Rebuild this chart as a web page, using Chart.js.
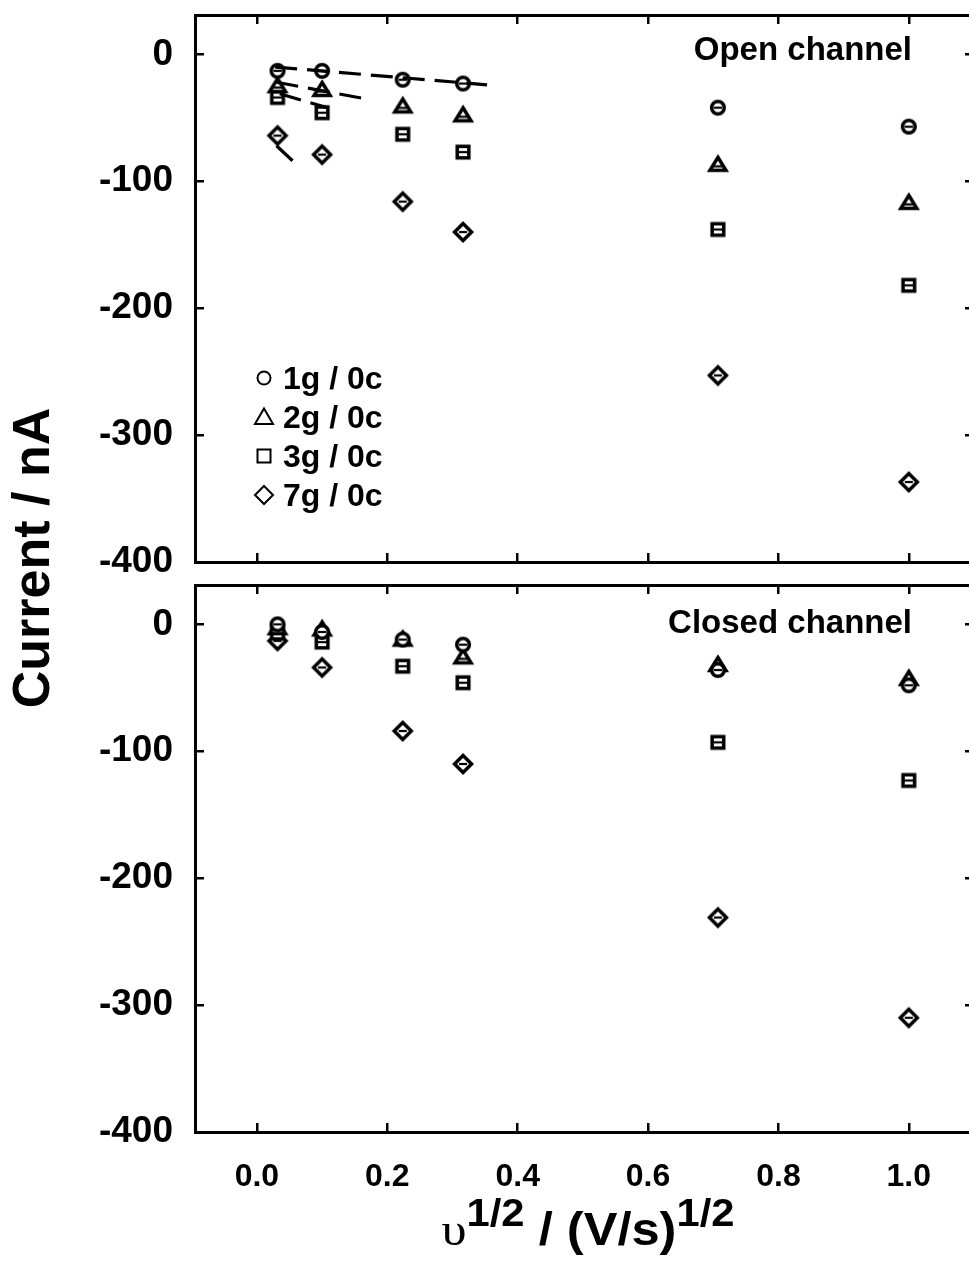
<!DOCTYPE html>
<html><head><meta charset="utf-8">
<script src="https://cdn.jsdelivr.net/npm/chart.js@4.4.0/dist/chart.umd.min.js"></script>
<style>
html,body{margin:0;padding:0;background:#fff;overflow:hidden;width:969px;height:1268px;}
#wrap{position:relative;width:969px;height:1268px;overflow:hidden;background:#fff;}
canvas{position:absolute;left:0;}
.t{position:absolute;font-family:"Liberation Sans",Arial,sans-serif;font-weight:bold;color:#000;white-space:nowrap;}
#legend .row{height:39px;display:flex;align-items:center;}
#legend svg{width:22px;height:22px;margin-right:8px;flex:none;}
#xt .sup{font-size:38px;position:relative;top:-19px;}
#xt .ups{font-family:"Liberation Serif","DejaVu Serif",serif;font-weight:normal;font-size:46px;}
</style></head><body>
<div id="wrap">
<canvas id="cTop" width="1000" height="600" style="top:0;width:1000px;height:600px"></canvas>
<canvas id="cBot" width="1000" height="708" style="top:560px;width:1000px;height:708px"></canvas>
<div class="t" style="right:57px;top:32px;font-size:33px;line-height:33px;">Open channel</div>
<div class="t" style="right:57px;top:605px;font-size:33px;line-height:33px;">Closed channel</div>
<div class="t" id="legend" style="left:253px;top:358px;font-size:32px;line-height:32px;"></div>
<div class="t" style="left:-169px;top:532px;width:400px;height:52px;line-height:52px;font-size:52px;text-align:center;transform:rotate(-90deg);transform-origin:50% 50%;">Current / nA</div>
<div class="t" id="xt" style="left:388px;top:1206px;width:400px;text-align:center;font-size:46px;line-height:46px;transform:scaleX(1.1);transform-origin:50% 50%;"><span class="ups">&#965;</span><span class="sup">1/2</span> / (V/s)<span class="sup">1/2</span></div>
</div>
<script>
// ---- data ----
const scanRateSqrt = [0.0316, 0.1, 0.2236, 0.3162, 0.7071, 1.0];
const open1g = [-13, -13, -20, -23, -42, -57];
const open2g = [-25, -28, -41, -48, -87, -117];
const open3g = [-34, -46, -63, -77, -138, -182];
const open7g = [-64, -79, -116, -140, -253, -337];
const closed1g = [0, -6, -12, -16, -36, -48];
const closed2g = [-3, -4, -12, -26, -32, -43];
const closed3g = [-7, -14, -33, -46, -93, -123];
const closed7g = [-13, -34, -84, -110, -231, -310];
// dashed linear fits (open channel), end points
const fit1gX = [0.028, 0.353], fit1gY = [-10, -24];
const fit2gX = [0.03, 0.166],  fit2gY = [-22, -35];
const fit3gX = [0.035, 0.107], fit3gY = [-31, -42];
const fit7gX = [0.03, 0.055],  fit7gY = [-72, -84];
const seriesLabels = ['1g / 0c', '2g / 0c', '3g / 0c', '7g / 0c'];
const xTickValues = [0, 0.2, 0.4, 0.6, 0.8, 1.0];
const xTickLabels = ['0.0', '0.2', '0.4', '0.6', '0.8', '1.0'];
const yTickValues = [-400, -300, -200, -100, 0];
const yTickLabels = ['-400', '-300', '-200', '-100', '0'];

const FONT = '"Liberation Sans", Arial, sans-serif';

function marker(shape) {
  const s = 26, m = s / 2, c = document.createElement('canvas');
  c.width = s; c.height = s;
  const g = c.getContext('2d');
  g.strokeStyle = '#000'; g.fillStyle = '#fff'; g.lineWidth = 3.5; g.lineJoin = 'miter';
  g.beginPath();
  if (shape === 'circle') g.arc(m, m, 6.3, 0, Math.PI * 2);
  else if (shape === 'triangle') { g.moveTo(m, m - 7.5); g.lineTo(m + 8, m + 5.5); g.lineTo(m - 8, m + 5.5); g.closePath(); }
  else if (shape === 'square') g.rect(m - 5.8, m - 5.8, 11.6, 11.6);
  else { g.moveTo(m, m - 8.5); g.lineTo(m + 8.5, m); g.lineTo(m, m + 8.5); g.lineTo(m - 8.5, m); g.closePath(); }
  g.fill(); g.stroke();
  g.lineWidth = 2.2; g.beginPath();
  const yy = shape === 'triangle' ? m + 1.5 : m;
  g.moveTo(m - 4, yy); g.lineTo(m + 4, yy); g.stroke();
  return c;
}
const shapes = ['circle', 'triangle', 'square', 'diamond'];
const markers = shapes.map(marker);

function pts(xs, ys) { return xs.map((x, i) => ({ x: x, y: ys[i] })); }
function scat(i, ys) {
  return { label: seriesLabels[i], data: pts(scanRateSqrt, ys), pointStyle: markers[i], pointRadius: 8,
           showLine: false, borderColor: '#000', backgroundColor: '#fff' };
}
function fit(xs, ys) {
  return { label: 'fit', data: pts(xs, ys), showLine: true, borderColor: '#000', borderWidth: 3.2,
           borderDash: [22, 10], pointRadius: 0, fill: false, tension: 0 };
}

function setTicks(vals) { return s => { s.ticks = vals.map(v => ({ value: v })); }; }
function noPad(s) { s.paddingTop = 0; s.paddingBottom = 0; s.paddingLeft = 0; s.paddingRight = 0; }
function scales(showX) {
  const grid = { drawOnChartArea: false, drawTicks: true, tickLength: -9, lineWidth: 2.5, color: '#000' };
  const border = { display: true, color: '#000', width: 3 };
  const xr = { type: 'linear', min: -0.095, max: 1.1, grid: grid, border: border, afterBuildTicks: setTicks(xTickValues) };
  const yr = { type: 'linear', min: -400, max: 31, grid: grid, border: border, afterBuildTicks: setTicks(yTickValues) };
  return {
    x: Object.assign({}, xr, { position: 'bottom',
      ticks: { display: showX, autoSkip: false, maxRotation: 0, padding: 35, color: '#000',
               font: { family: FONT, size: 32, weight: 'bold' },
               callback: v => { const i = xTickValues.findIndex(t => Math.abs(t - v) < 1e-6); return i < 0 ? '' : xTickLabels[i]; } },
      afterFit: s => { s.height = showX ? 136 : 0; noPad(s); } }),
    x2: Object.assign({}, xr, { position: 'top', ticks: { display: false }, afterFit: s => { s.height = 0; noPad(s); } }),
    y: Object.assign({}, yr, { position: 'left',
      ticks: { padding: 31, color: '#000', font: { family: FONT, size: 37, weight: 'bold' },
               callback: v => { const i = yTickValues.indexOf(v); return i < 0 ? '' : yTickLabels[i]; } },
      afterFit: s => { s.width = 195; noPad(s); } }),
    y2: Object.assign({}, yr, { position: 'right', ticks: { display: false }, afterFit: s => { s.width = 26; noPad(s); } })
  };
}
function makeChart(id, datasets, showX, pad) {
  return new Chart(document.getElementById(id), {
    type: 'scatter',
    data: { datasets: datasets },
    options: {
      responsive: false, animation: false, devicePixelRatio: 1,
      layout: { padding: pad },
      plugins: { legend: { display: false }, tooltip: { enabled: false } },
      scales: scales(showX)
    }
  });
}

makeChart('cTop', [
  fit(fit1gX, fit1gY), fit(fit2gX, fit2gY), fit(fit3gX, fit3gY), fit(fit7gX, fit7gY),
  scat(0, open1g), scat(1, open2g), scat(2, open3g), scat(3, open7g)
], false, { top: 15, bottom: 38, left: 0, right: 0 });

makeChart('cBot', [
  scat(0, closed1g), scat(1, closed2g), scat(2, closed3g), scat(3, closed7g)
], true, { top: 25, bottom: 0, left: 0, right: 0 });

// legend
const svgShapes = [
  '<circle cx="11" cy="11" r="6.5" fill="none" stroke="#000" stroke-width="2"/>',
  '<polygon points="11,2.5 20,18 2,18" fill="none" stroke="#000" stroke-width="2"/>',
  '<rect x="4.5" y="4.5" width="13" height="13" fill="none" stroke="#000" stroke-width="2"/>',
  '<polygon points="11,2 20,11 11,20 2,11" fill="none" stroke="#000" stroke-width="2"/>'
];
document.getElementById('legend').innerHTML = seriesLabels.map((l, i) =>
  '<div class="row"><svg viewBox="0 0 22 22">' + svgShapes[i] + '</svg><span>' + l + '</span></div>').join('');
</script>
</body></html>
